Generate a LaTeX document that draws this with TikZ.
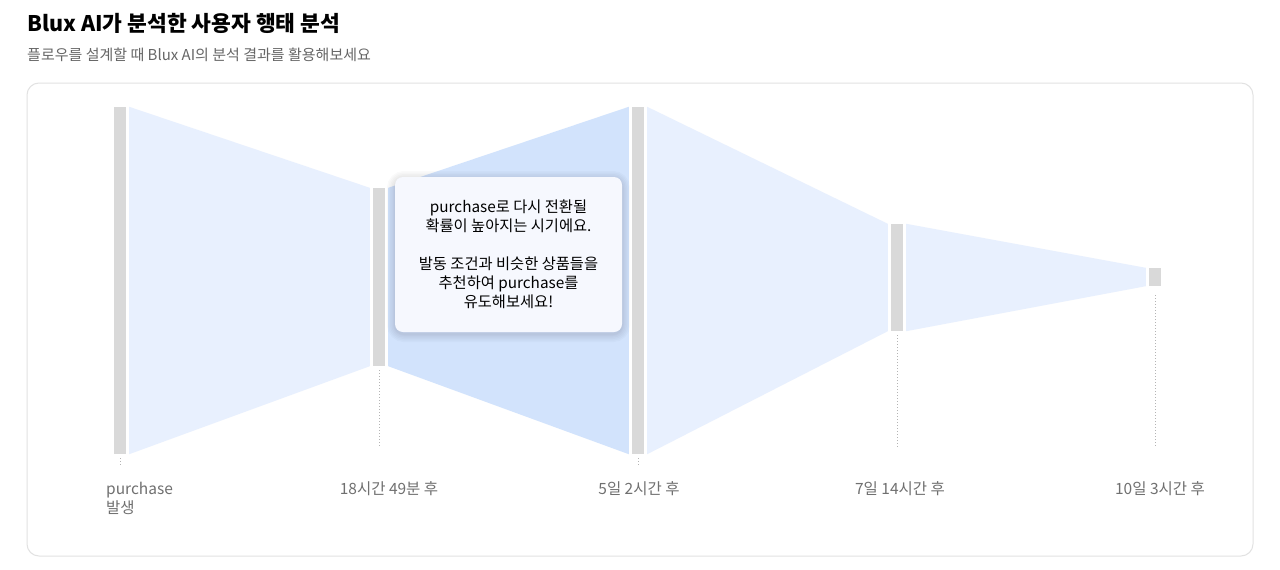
\documentclass[tikz,border=0pt]{standalone}
\usepackage{fontspec}
\setmainfont{Noto Sans CJK KR}
\usetikzlibrary{calc}
\definecolor{funnel}{HTML}{E8F0FE}
\definecolor{hilite}{HTML}{D2E3FC}
\definecolor{barg}{HTML}{D9D9D9}
\definecolor{cardline}{HTML}{E2E2E2}
\definecolor{dotg}{HTML}{B4B4B4}
\definecolor{labg}{HTML}{707070}
\definecolor{subg}{HTML}{666666}
\definecolor{tipbg}{HTML}{F6F8FE}
\tikzset{
  stagebar/.style={fill=barg, draw=none, inner sep=0pt, minimum width=12pt},
  funnelfill/.style={fill=funnel, draw=none},
  hilitefill/.style={fill=hilite, draw=none},
  dotline/.style={draw=dotg, line width=0.8pt, dash pattern=on 1pt off 2pt},
  steplabel/.style={text=labg, font=\fontsize{15.5}{19.5}\selectfont, inner sep=0pt},
  softshadow/.style={draw=black, draw opacity=0.018, line width=#1, rounded corners=9pt},
}
\begin{document}
\begin{tikzpicture}[x=1pt,y=-1pt]
\useasboundingbox (0,0) rectangle (1280,570);
\fill[white] (0,0) rectangle (1280,570);
% title
\node[anchor=base west, inner sep=0pt, font=\fontsize{21.5}{24}\selectfont\bfseries] (title) at (27,31) {Blux AI가 분석한 사용자 행태 분석};
\node[anchor=base west, inner sep=0pt, text=subg, font=\fontsize{15}{18}\selectfont] (subtitle) at (27,60) {플로우를 설계할 때 Blux AI의 분석 결과를 활용해보세요};
% card
\draw[cardline, line width=1pt, rounded corners=12pt] (27,83) rectangle (1253,556);
% bars
\node[stagebar, minimum height=347pt] (b1) at (120,280.5) {};
\node[stagebar, minimum height=178pt] (b2) at (379,277) {};
\node[stagebar, minimum height=347pt] (b3) at (638,280.5) {};
\node[stagebar, minimum height=107pt] (b4) at (897,277.5) {};
\node[stagebar, minimum height=18pt] (b5) at (1155,277) {};
% funnels
\fill[funnelfill] ($(b1.north east)+(3,0)$) -- ($(b2.north west)+(-3,0)$) -- ($(b2.south west)+(-3,0)$) -- ($(b1.south east)+(3,0)$) -- cycle;
\fill[hilitefill] ($(b2.north east)+(3,0)$) -- ($(b3.north west)+(-3,0)$) -- ($(b3.south west)+(-3,0)$) -- ($(b2.south east)+(3,0)$) -- cycle;
\fill[funnelfill] ($(b3.north east)+(3,0)$) -- ($(b4.north west)+(-3,0)$) -- ($(b4.south west)+(-3,0)$) -- ($(b3.south east)+(3,0)$) -- cycle;
\fill[funnelfill] ($(b4.north east)+(3,0)$) -- ($(b5.north west)+(-3,0)$) -- ($(b5.south west)+(-3,0)$) -- ($(b4.south east)+(3,0)$) -- cycle;
% dotted guides
\coordinate (d1) at (120,466);
\coordinate (d2) at (379,447);
\coordinate (d3) at (638,466);
\coordinate (d4) at (897,447);
\coordinate (d5) at (1155,447);
\draw[dotline] ($(b1.south)+(0,4)$) -- (d1);
\draw[dotline] ($(b2.south)+(0,4)$) -- (d2);
\draw[dotline] ($(b3.south)+(0,4)$) -- (d3);
\draw[dotline] ($(b4.south)+(0,4)$) -- (d4);
\draw[dotline] ($(b5.south)+(0,9)$) -- (d5);
% labels
\node[steplabel, anchor=base west, align=left] (l1) at (106,513.5) {purchase\\발생};
\node[steplabel, anchor=base] (l2) at (389,494) {18시간 49분 후};
\node[steplabel, anchor=base] (l3) at (639,494) {5일 2시간 후};
\node[steplabel, anchor=base] (l4) at (900,494) {7일 14시간 후};
\node[steplabel, anchor=base] (l5) at (1160,494) {10일 3시간 후};
% tooltip soft shadow
\foreach \w in {16,13,10,7,4,2}{
  \draw[softshadow=\w pt] (395,179) rectangle (622,334);
}
% tooltip
\node[fill=tipbg, rounded corners=8pt, minimum width=227pt, minimum height=155pt, inner sep=0pt,
      align=center, font=\fontsize{15.3}{19}\selectfont] (tip) at (508.5,254.5)
  {purchase로 다시 전환될\\확률이 높아지는 시기에요.\\[19pt]발동 조건과 비슷한 상품들을\\추천하여 purchase를\\유도해보세요!};
\end{tikzpicture}
\end{document}
